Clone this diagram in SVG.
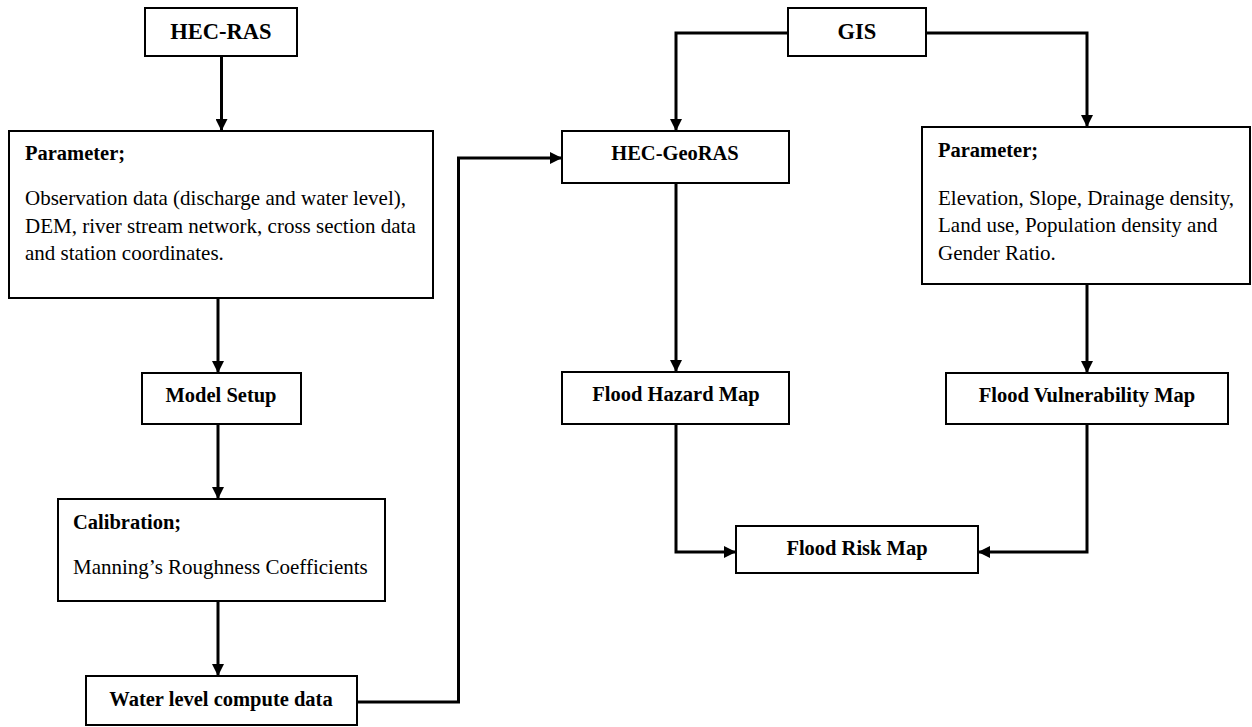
<svg xmlns="http://www.w3.org/2000/svg" width="1252" height="727" viewBox="0 0 1252 727">
<style>
.box{fill:#fff;stroke:#000;stroke-width:2}
.t{font-family:"Liberation Serif","Times New Roman",serif;fill:#000}
.b{font-weight:bold;font-size:20.5px}
.big{font-weight:bold;font-size:22.5px}
.r{font-size:21px}
.c{stroke:#000;stroke-width:3;fill:none;marker-end:url(#ah)}
</style>
<defs>
<marker id="ah" markerUnits="userSpaceOnUse" viewBox="0 0 12 12" refX="12" refY="6" markerWidth="12" markerHeight="12" orient="auto">
<path d="M0,0 L12,6 L0,12 z" fill="#000"/>
</marker>
</defs>
<rect width="1252" height="727" fill="#fff"/>
<g id="connectors">
<path class="c" d="M221.5,56 V131"/>
<path class="c" d="M218,298 V373"/>
<path class="c" d="M218,424 V499"/>
<path class="c" d="M218,601 V676"/>
<path class="c" d="M357,702 H458.5 V158 H562"/>
<path class="c" d="M788,33 H676 V131"/>
<path class="c" d="M926,33 H1087 V127"/>
<path class="c" d="M676,183 V372"/>
<path class="c" d="M1087,284 V373"/>
<path class="c" d="M676,424 V552 H736"/>
<path class="c" d="M1087,424 V552 H978"/>
</g>
<g id="hecras">
<rect class="box" x="145" y="8" width="152" height="48"/>
<text class="t big" x="221" y="39" text-anchor="middle">HEC-RAS</text>
</g>
<g id="param-left">
<rect class="box" x="9" y="131" width="424" height="167"/>
<text class="t b" x="25" y="160">Parameter;</text>
<text class="t r" x="25" y="205">Observation data (discharge and water level),</text>
<text class="t r" x="25" y="233">DEM, river stream network, cross section data</text>
<text class="t r" x="25" y="260">and station coordinates.</text>
</g>
<g id="model-setup">
<rect class="box" x="142" y="373" width="159" height="51"/>
<text class="t b" x="221" y="402" text-anchor="middle">Model Setup</text>
</g>
<g id="calibration">
<rect class="box" x="58" y="499" width="327" height="102"/>
<text class="t b" x="73" y="529">Calibration;</text>
<text class="t r" x="73" y="574">Manning’s Roughness Coefficients</text>
</g>
<g id="water-level">
<rect class="box" x="86" y="676" width="271" height="49"/>
<text class="t b" x="221" y="706" text-anchor="middle">Water level compute data</text>
</g>
<g id="gis">
<rect class="box" x="788" y="8" width="138" height="48"/>
<text class="t big" x="857" y="39" text-anchor="middle">GIS</text>
</g>
<g id="hec-georas">
<rect class="box" x="562" y="131" width="227" height="52"/>
<text class="t b" x="675" y="160" text-anchor="middle">HEC-GeoRAS</text>
</g>
<g id="param-right">
<rect class="box" x="922" y="127" width="328" height="157"/>
<text class="t b" x="938" y="157">Parameter;</text>
<text class="t r" x="938" y="205">Elevation, Slope, Drainage density,</text>
<text class="t r" x="938" y="232">Land use, Population density and</text>
<text class="t r" x="938" y="260">Gender Ratio.</text>
</g>
<g id="flood-hazard">
<rect class="box" x="562" y="372" width="227" height="52"/>
<text class="t b" x="676" y="401" text-anchor="middle">Flood Hazard Map</text>
</g>
<g id="flood-vulnerability">
<rect class="box" x="946" y="373" width="282" height="51"/>
<text class="t b" x="1087" y="402" text-anchor="middle">Flood Vulnerability Map</text>
</g>
<g id="flood-risk">
<rect class="box" x="736" y="526" width="242" height="47"/>
<text class="t b" x="857" y="555" text-anchor="middle">Flood Risk Map</text>
</g>
</svg>
